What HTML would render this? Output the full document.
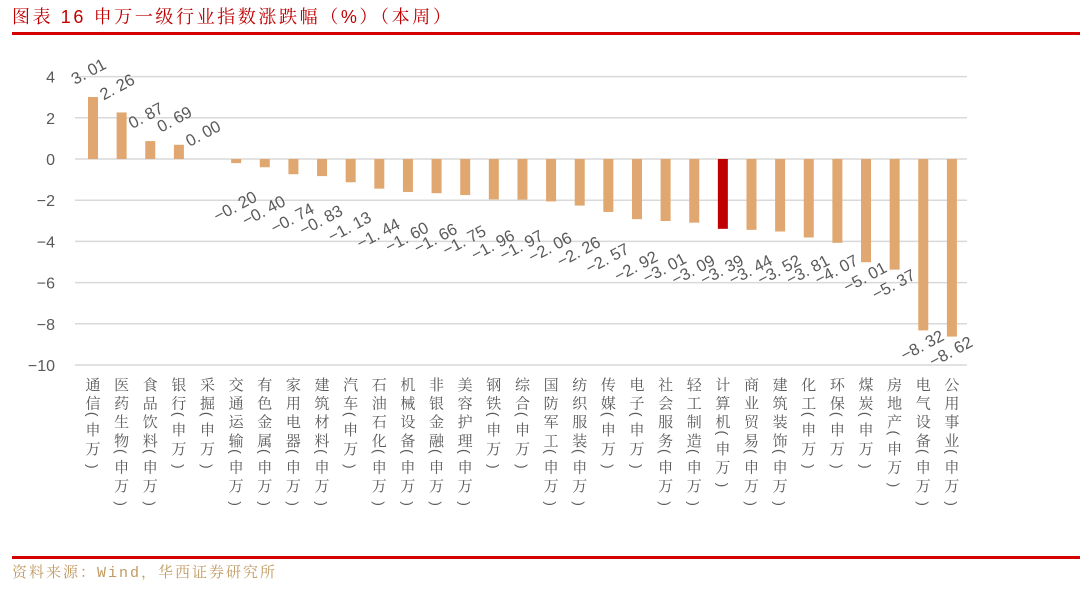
<!DOCTYPE html>
<html><head><meta charset="utf-8"><style>
body{margin:0;background:#fff;width:1080px;height:593px;overflow:hidden;position:relative;font-family:"Liberation Sans","Noto Sans CJK SC",sans-serif}
#title{position:absolute;left:12px;top:3px;font-size:18px;color:#c00000;font-family:"Liberation Sans","Noto Serif CJK SC",serif;letter-spacing:2.6px}
.rl{position:absolute;left:12px;right:0;height:3px;background:#d40000}
#src{position:absolute;left:12px;top:561px;font-size:15px;color:#c09a60;font-family:"Liberation Mono","Noto Serif CJK SC",serif;letter-spacing:2px}
</style></head><body>
<div id="title">图表 16 申万一级行业指数涨跌幅（%）（本周）</div>
<div class="rl" style="top:32px"></div>
<svg id="c" width="1080" height="593" style="position:absolute;left:0;top:0"></svg>
<div class="rl" style="top:556px"></div>
<div id="src">资料来源：Wind，华西证券研究所</div>
<script>
const categories=["通信","医药生物","食品饮料","银行","采掘","交通运输","有色金属","家用电器","建筑材料","汽车","石油石化","机械设备","非银金融","美容护理","钢铁","综合","国防军工","纺织服装","传媒","电子","社会服务","轻工制造","计算机","商业贸易","建筑装饰","化工","环保","煤炭","房地产","电气设备","公用事业"];
const values=[3.01,2.26,0.87,0.69,0.00,-0.20,-0.40,-0.74,-0.83,-1.13,-1.44,-1.60,-1.66,-1.75,-1.96,-1.97,-2.06,-2.26,-2.57,-2.92,-3.01,-3.09,-3.39,-3.44,-3.52,-3.81,-4.07,-5.01,-5.37,-8.32,-8.62];
const ticks=[4,2,0,-2,-4,-6,-8,-10];
const highlight="计算机";
const svg=document.getElementById('c');const NS="http://www.w3.org/2000/svg";
const y=v=>159-v*20.6;
const x=i=>93+i*28.63;
function mk(t,a){const e=document.createElementNS(NS,t);for(const k in a)e.setAttribute(k,a[k]);svg.appendChild(e);return e;}
ticks.forEach(t=>{
 const g=mk('line',{x1:75,x2:967,y1:y(t),y2:y(t),stroke:'#d9d9d9','stroke-width':1.5});
 
 
 const l=mk('text',{x:55,y:y(t)+6,'text-anchor':'end','font-size':16,fill:'#595959'});
 l.textContent=t<0?'\u2212'+(-t):t;
 
 
});
values.forEach((v,i)=>{
 const cx=x(i),y0=y(0),y1=y(v);
 const r=mk('rect',{x:cx-5,y:Math.min(y0,y1),width:10,height:Math.max(Math.abs(y1-y0),0.01),fill:categories[i]===highlight?'#c00000':'#e0a870'});
 
 
 const s=v<0?'\u2212'+(-v).toFixed(2).replace('.','. '):v.toFixed(2).replace('.','. ');
 let t;
 if(v>=0){t=mk('text',{x:cx-18,y:y1-12,'font-size':16.5,fill:'#595959',transform:`rotate(-28 ${cx-18} ${y1-12})`});}
 else{
  const top=Math.max(y1,Math.min(y0+28+22*(-v),255));
  const ax=cx+22,ay=top+9;
  t=mk('text',{x:ax,y:ay,'text-anchor':'end','font-size':16.5,fill:'#595959',transform:`rotate(-28 ${ax} ${ay})`});}
 t.textContent=s;
 
 
 let yy=390;
 const c=categories[i]+'(申万)';
 [...c].forEach(ch=>{
  let tt;
  if(ch==='('||ch===')'){
   const py=ch==='('?yy-8:yy-1;
   tt=mk('text',{x:cx,y:py,'text-anchor':'middle','font-size':14,fill:'#595959','font-family':'"Liberation Sans",sans-serif',transform:`rotate(90 ${cx} ${py-5})`});
   yy+=ch==='('?8:0;
  } else {
   tt=mk('text',{x:cx,y:yy,'text-anchor':'middle','font-size':15,fill:'#595959','font-family':'"Noto Serif CJK SC",serif'});
   yy+=18.6;
  }
  tt.textContent=ch;
  
  
 });
});
</script>
</body></html>
